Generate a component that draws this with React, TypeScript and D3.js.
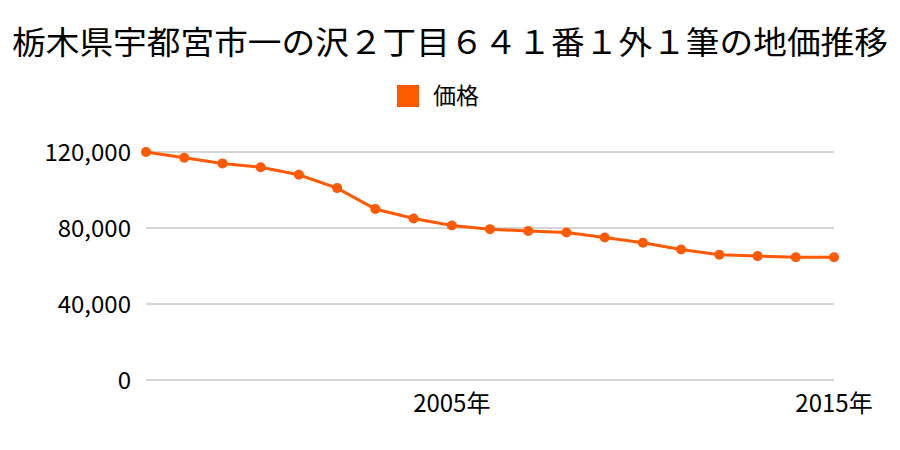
import * as d3 from "d3"

const years = [1997, 1998, 1999, 2000, 2001, 2002, 2003, 2004, 2005, 2006, 2007, 2008, 2009, 2010, 2011, 2012, 2013, 2014, 2015]
const prices = [120000, 117000, 114000, 112000, 108000, 101000, 90000, 85000, 81300, 79400, 78400, 77600, 75000, 72200, 68700, 65900, 65200, 64600, 64600]
const yTicks = [0, 40000, 80000, 120000]
const xTicks = [2005, 2015]
const title = "栃木県宇都宮市一の沢２丁目６４１番１外１筆の地価推移"
const seriesName = "価格"

const WIDTH = 900
const HEIGHT = 450
const COLOR = "#ff5a00"
const FONT = "'Noto Sans CJK JP', sans-serif"

export default function App() {
    const x = d3.scaleLinear().domain([1997, 2015]).range([146, 834])
    const y = d3.scaleLinear().domain([0, 120000]).range([380, 152])
    const fmt = d3.format(",")

    const line = d3.line<number>()
        .x((_, i) => x(years[i]))
        .y((d) => y(d))

    return (
        <svg width={WIDTH} height={HEIGHT} style={{ position: "absolute", left: 0, top: 0, background: "#fff" }} fontFamily={FONT}>
            <text x={12} y={54} fontSize={32} textLength={876} lengthAdjust="spacingAndGlyphs" fill="#000">{title}</text>

            {/* legend */}
            <rect x={397} y={85} width={22} height={22} fill={COLOR} />
            <text x={433} y={104} fontSize={23} fill="#000">{seriesName}</text>

            {/* grid + y labels */}
            {yTicks.map((t) => (
                <g key={t}>
                    <line x1={146} x2={834} y1={y(t)} y2={y(t)} stroke="#aaa" strokeWidth={1} />
                    <text x={131} y={y(t) + 8.5} fontSize={24} textAnchor="end" fill="#000">{fmt(t)}</text>
                </g>
            ))}

            {/* x labels */}
            {xTicks.map((t) => (
                <text key={t} x={x(t)} y={412} fontSize={24} textAnchor="middle" fill="#000">{t}年</text>
            ))}

            <path d={line(prices) as string} fill="none" stroke={COLOR} strokeWidth={3} />
            {prices.map((p, i) => (
                <circle key={i} cx={x(years[i])} cy={y(p)} r={5} fill={COLOR} />
            ))}
        </svg>
    )
}
